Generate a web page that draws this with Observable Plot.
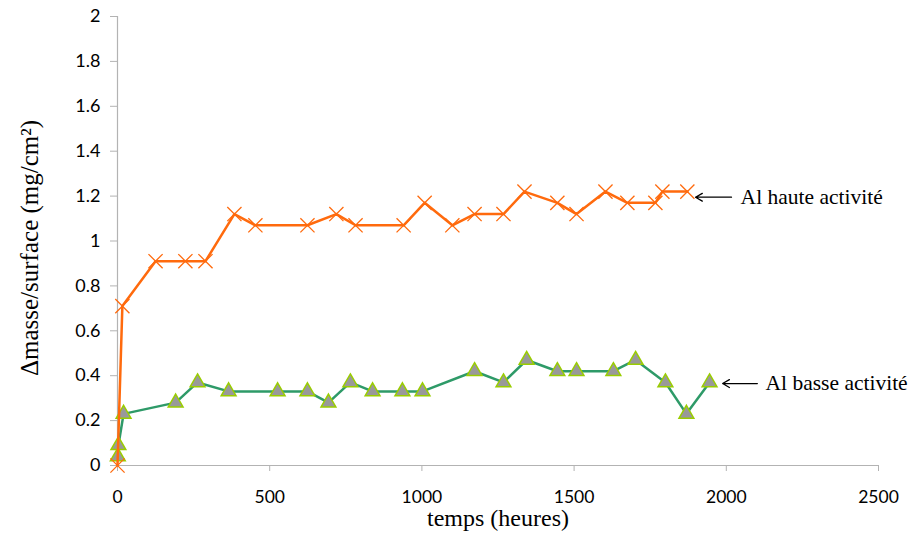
<!DOCTYPE html>
<html>
<head>
<meta charset="utf-8">
<script src="https://cdn.jsdelivr.net/npm/d3@7"></script>
<script src="https://cdn.jsdelivr.net/npm/@observablehq/plot@0.6"></script>
<style>
  html, body { margin: 0; padding: 0; background: #fff; }
</style>
</head>
<body>
<div id="chart"></div>
<script>
// Al haute activité
const hauteTemps = [0, 16, 125, 223, 289, 384, 453, 624, 719, 782, 940, 1009, 1100, 1173, 1268, 1337, 1445, 1508, 1603, 1675, 1767, 1790, 1872];
const hauteMasse = [0, 0.71, 0.91, 0.91, 0.91, 1.12, 1.07, 1.07, 1.12, 1.07, 1.07, 1.17, 1.07, 1.12, 1.12, 1.22, 1.17, 1.12, 1.22, 1.17, 1.17, 1.22, 1.22];
// Al basse activité
const basseTemps = [1, 3, 20, 191, 263, 365, 526, 624, 693, 765, 838, 936, 1002, 1173, 1268, 1344, 1445, 1508, 1629, 1702, 1800, 1869, 1945];
const basseMasse = [0.04, 0.09, 0.23, 0.28, 0.37, 0.33, 0.33, 0.33, 0.28, 0.37, 0.33, 0.33, 0.33, 0.42, 0.37, 0.47, 0.42, 0.42, 0.42, 0.47, 0.37, 0.23, 0.37];

const xTicks = [0, 500, 1000, 1500, 2000, 2500];
const yTicks = [0, 0.2, 0.4, 0.6, 0.8, 1, 1.2, 1.4, 1.6, 1.8, 2];
const xLabel = "temps (heures)";
const yLabel = "Δmasse/surface (mg/cm²)";

// annotations (label, arrow tail x, arrow head x, y, text x)
const annLabels = ["Al haute activité", "Al basse activité"];
const annArrowFrom = [2017, 2102];
const annArrowTo = [1899, 1988];
const annY = [1.195, 0.365];
const annTextX = [2047, 2129];

const haute = hauteTemps.map((t, i) => ({t, m: hauteMasse[i]}));
const basse = basseTemps.map((t, i) => ({t, m: basseMasse[i]}));
const ann = annLabels.map((label, i) => ({label, x1: annArrowFrom[i], x2: annArrowTo[i], y: annY[i], tx: annTextX[i]}));

const orange = "#ff6a0d";
const green = "#2e9a68";
const axisGray = "#b3b3b3";
const sansFont = "Lato";
const serifFont = "Liberation Serif";

const chart = Plot.plot({
  width: 913,
  height: 537,
  marginLeft: 117,
  marginRight: 35,
  marginTop: 16,
  marginBottom: 72,
  style: {background: "#fff", color: "#000"},
  x: {domain: [0, 2500]},
  y: {domain: [0, 2]},
  marks: [
    Plot.axisX({ticks: xTicks, tickSize: 6, tickPadding: 19, stroke: axisGray, fill: "#000", fontSize: 17.5, fontFamily: sansFont, tickFormat: d => String(d), label: null}),
    Plot.axisY({ticks: yTicks, tickSize: 7, tickPadding: 10, stroke: axisGray, fill: "#000", fontSize: 18, fontFamily: sansFont, tickFormat: d3.format("~g"), label: null}),
    Plot.ruleX([0], {stroke: axisGray, strokeWidth: 1.2}),
    Plot.ruleY([0], {stroke: axisGray, strokeWidth: 1.2}),
    Plot.line(basse, {x: "t", y: "m", stroke: green, strokeWidth: 2.5}),
    Plot.dot(basse, {x: "t", y: "m", symbol: "triangle", r: 5.5, fill: "#999999", stroke: "#9acd00", strokeWidth: 1.5}),
    Plot.line(haute, {x: "t", y: "m", stroke: orange, strokeWidth: 2.5}),
    Plot.dot(haute, {x: "t", y: "m", symbol: "times", r: 6.5, stroke: orange, strokeWidth: 1.3}),
    Plot.arrow(ann, {x1: "x1", x2: "x2", y1: "y", y2: "y", stroke: "#000", strokeWidth: 1.3, headLength: 9}),
    Plot.text(ann, {x: "tx", y: "y", text: "label", textAnchor: "start", fontSize: 21.5, fill: "#000", fontFamily: serifFont}),
    Plot.text([xLabel], {frameAnchor: "bottom", textAnchor: "middle", dy: 60, fontSize: 24, fill: "#000", fontFamily: serifFont}),
    Plot.text([yLabel], {frameAnchor: "left", textAnchor: "middle", rotate: -90, dx: -88, dy: 7, fontSize: 25, fill: "#000", fontFamily: serifFont})
  ]
});
document.getElementById("chart").appendChild(chart);
</script>
</body>
</html>
